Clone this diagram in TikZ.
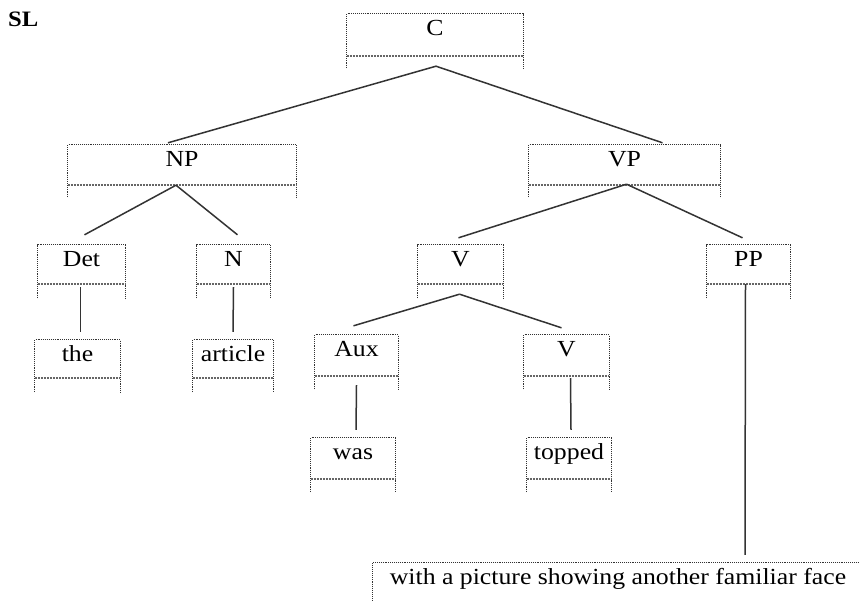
\documentclass[tikz,border=0pt]{standalone}
\usepackage{fontspec}
\setmainfont{Liberation Serif}[FakeStretch=1.12]
\usetikzlibrary{calc}
\tikzset{
  boxn/.style={rectangle, inner sep=0pt, draw=none},
  lbl/.style={anchor=base, inner sep=0pt, font=\fontsize{23}{26}\selectfont, text=black},
  dotb/.style={draw=black!80, line width=1pt, dash pattern=on 1pt off 0.9pt},
  botl/.style={draw=black!60, line width=2.2pt, dash pattern=on 1pt off 0.5pt},
  conn/.style={draw=black!80, line width=1.5pt},
}
% name, x1, x2, top, bottom, extension, text
\newcommand\tbox[7]{%
  \node[boxn, minimum width={(#3-#2)*1pt}, minimum height={(#5-#4)*1pt}] (#1) at ({(#2+#3)/2},{(#4+#5)/2}) {};
  \node[lbl] (#1-t) at ({(#2+#3)/2},{#4+21}) {#7};
  \draw[dotb] ([yshift={-(#6-#5)*1pt}]#1.south west) -- (#1.north west) -- (#1.north east) -- ([yshift={-(#6-#5)*1pt}]#1.south east);
  \draw[botl] (#1.south west) -- (#1.south east);
}
\begin{document}
\begin{tikzpicture}[x=1pt,y=-1pt]
\useasboundingbox (0,0) rectangle (859,600);
\fill[white] (0,0) rectangle (859,600);
\node[anchor=base west, inner sep=0pt, font=\fontsize{22}{24}\selectfont\bfseries] (sl) at (8,26) {SL};
\tbox{C}{347}{523}{14}{56}{68}{C}
\tbox{NP}{68}{296}{145}{185}{197}{NP}
\tbox{VP}{529}{720}{145}{185}{197}{VP}
\tbox{Det}{38}{125}{245}{284}{298}{Det}
\tbox{N}{197}{270}{245}{284}{298}{N}
\tbox{V}{418}{503}{245}{284}{298}{V}
\tbox{PP}{707}{790}{245}{284}{298}{PP}
\tbox{the}{35}{120}{340}{378}{392}{the}
\tbox{article}{193}{273}{340}{378}{392}{article}
\tbox{Aux}{315}{398}{335}{376}{389}{Aux}
\tbox{Vb}{524}{609}{335}{376}{389}{V}
\tbox{was}{311}{395}{438}{479}{492}{was}
\tbox{topped}{527}{611}{438}{479}{492}{topped}
\tbox{big}{373}{863}{563}{615}{625}{with a picture showing another familiar face}
% connectors
\draw[conn] ($(C.south)+(1,10)$) -- ($(NP.north)+(-14,-2)$);
\draw[conn] ($(C.south)+(1,10)$) -- ($(VP.north)+(38,-2)$);
\draw[conn] ($(NP.south)+(-6,0)$) -- ($(Det.north)+(3,-10)$);
\draw[conn] ($(NP.south)+(-6,0)$) -- ($(N.north)+(4,-10)$);
\draw[conn] ($(VP.south)+(2,-1)$) -- ($(V.north)+(-2,-7)$);
\draw[conn] ($(VP.south)+(2,-1)$) -- ($(PP.north)+(-6,-7)$);
\draw[conn] ($(V.south)+(-1,10)$) -- ($(Aux.north)+(-3,-9)$);
\draw[conn] ($(V.south)+(-1,10)$) -- ($(Vb.north)+(-5,-7)$);
\draw[conn] ($(Det.south)+(-1,3)$) -- ($(the.north)+(3,-8)$);
\draw[conn] ($(N.south)+(0,3)$) -- ($(article.north)+(0,-8)$);
\draw[conn] ($(Aux.south)+(0,9)$) -- ($(was.north)+(3,-8)$);
\draw[conn] ($(Vb.south)+(4,2)$) -- ($(topped.north)+(2,-8)$);
\draw[conn] ($(PP.south)+(-3,0)$) -- ($(big.north)+(127,-8)$);
\end{tikzpicture}
\end{document}
